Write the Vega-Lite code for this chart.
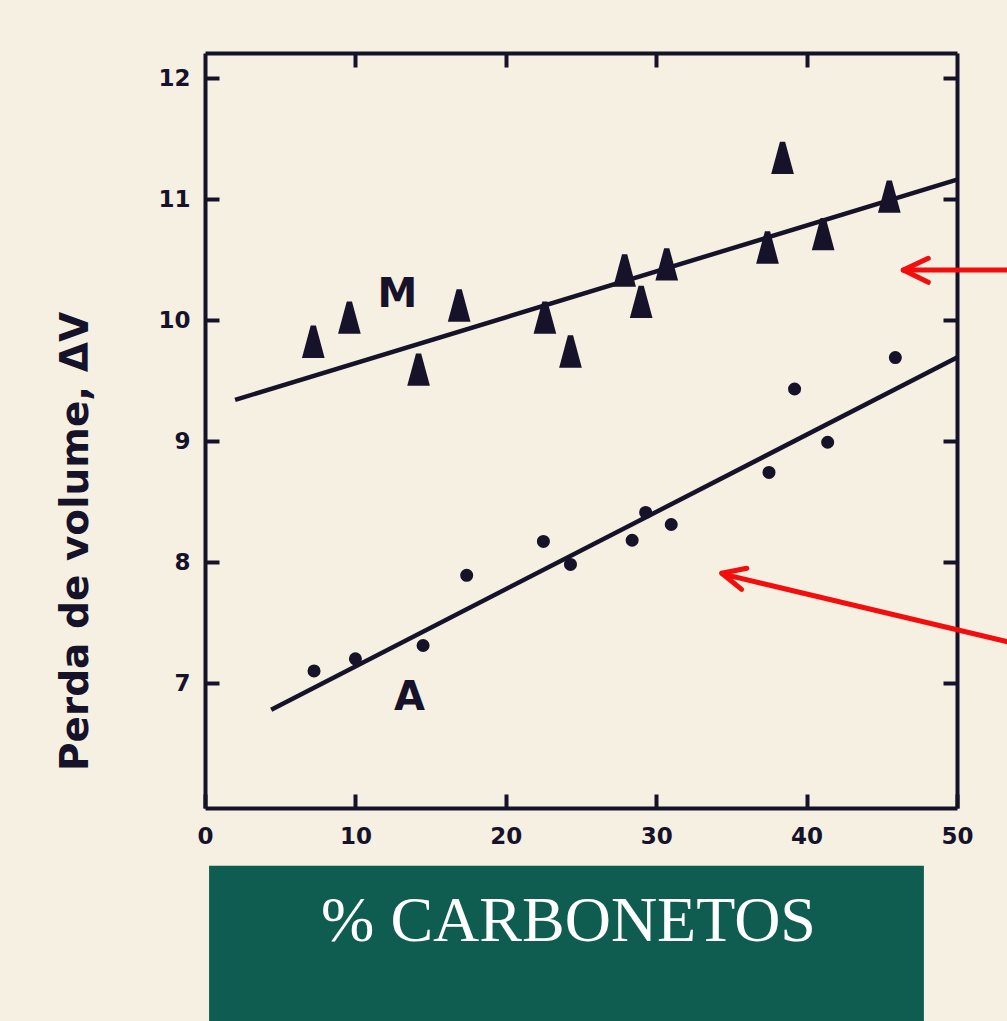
{
  "$schema": "https://vega.github.io/schema/vega-lite/v6.json",
  "autosize": {"type": "none"},
  "width": 752,
  "height": 755,
  "padding": {"left": 205, "top": 53, "right": 50, "bottom": 213},
  "background": "#f5f0e2",
  "config": {
    "view": {"stroke": null},
    "axis": {
      "grid": false,
      "domainColor": "#15122a",
      "domainWidth": 4,
      "tickColor": "#15122a",
      "tickWidth": 4,
      "tickSize": -14,
      "labelFlush": false,
      "labelFont": "DejaVu Sans",
      "labelFontWeight": "bold",
      "labelFontSize": 23,
      "labelColor": "#15122a"
    }
  },
  "datasets": {
    "points": [
      {"series": "M", "pct": 7.2, "dv": 9.82},
      {"series": "M", "pct": 9.6, "dv": 10.02},
      {"series": "M", "pct": 14.2, "dv": 9.59},
      {"series": "M", "pct": 16.9, "dv": 10.12},
      {"series": "M", "pct": 22.6, "dv": 10.02},
      {"series": "M", "pct": 24.3, "dv": 9.74},
      {"series": "M", "pct": 27.9, "dv": 10.41},
      {"series": "M", "pct": 29.0, "dv": 10.15},
      {"series": "M", "pct": 30.7, "dv": 10.46},
      {"series": "M", "pct": 37.4, "dv": 10.6},
      {"series": "M", "pct": 38.4, "dv": 11.34},
      {"series": "M", "pct": 41.1, "dv": 10.71},
      {"series": "M", "pct": 45.5, "dv": 11.02},
      {"series": "A", "pct": 7.25, "dv": 7.1},
      {"series": "A", "pct": 10.0, "dv": 7.2},
      {"series": "A", "pct": 14.5, "dv": 7.31},
      {"series": "A", "pct": 17.4, "dv": 7.89},
      {"series": "A", "pct": 22.5, "dv": 8.17},
      {"series": "A", "pct": 24.3, "dv": 7.98},
      {"series": "A", "pct": 28.4, "dv": 8.18},
      {"series": "A", "pct": 29.3, "dv": 8.41},
      {"series": "A", "pct": 31.0, "dv": 8.31},
      {"series": "A", "pct": 37.5, "dv": 8.74},
      {"series": "A", "pct": 39.2, "dv": 9.43},
      {"series": "A", "pct": 41.4, "dv": 8.99},
      {"series": "A", "pct": 45.9, "dv": 9.69}
    ],
    "fits": [
      {"series": "M", "pct": 2.0, "dv": 9.34},
      {"series": "M", "pct": 50, "dv": 11.16},
      {"series": "A", "pct": 4.4, "dv": 6.78},
      {"series": "A", "pct": 50, "dv": 9.69}
    ],
    "labels": [
      {"label": "M", "pct": 12.8, "dv": 10.21},
      {"label": "A", "pct": 13.6, "dv": 6.88}
    ],
    "arrows": [
      {"part": "shaft1", "x1": 53.4, "y1": 10.413, "x2": 46.5, "y2": 10.413},
      {"part": "head1a", "x1": 46.43, "y1": 10.413, "x2": 48.09, "y2": 10.51},
      {"part": "head1b", "x1": 46.43, "y1": 10.413, "x2": 48.09, "y2": 10.312},
      {"part": "shaft2", "x1": 53.4, "y1": 7.34, "x2": 34.45, "y2": 7.9},
      {"part": "head2a", "x1": 34.36, "y1": 7.907, "x2": 36.02, "y2": 7.948},
      {"part": "head2b", "x1": 34.36, "y1": 7.907, "x2": 35.68, "y2": 7.774}
    ],
    "box": [
      {"x1": 0.27, "x2": 47.8, "y1": 5.49, "y2": 4.0}
    ]
  },
  "layer": [
    {
      "data": {"name": "box"},
      "mark": {"type": "rect", "color": "#0f5d51", "clip": false},
      "encoding": {
        "x": {"field": "x1", "type": "quantitative", "axis": null},
        "x2": {"field": "x2"},
        "y": {"field": "y1", "type": "quantitative", "axis": null},
        "y2": {"field": "y2"}
      }
    },
    {
      "data": {"name": "fits"},
      "mark": {"type": "line", "color": "#15122a", "strokeWidth": 4.5},
      "encoding": {
        "x": {
          "field": "pct", "type": "quantitative",
          "scale": {"domain": [0, 50], "nice": false, "zero": false},
          "axis": {
            "orient": "bottom",
            "values": [0, 10, 20, 30, 40, 50],
            "labelPadding": 31,
            "zindex": 1,
            "title": "% CARBONETOS",
            "titleFont": "Liberation Serif",
            "titleFontSize": 64,
            "titleFontWeight": "normal",
            "titleColor": "#ffffff",
            "titleX": 363,
            "titleY": 132,
            "titleAlign": "center",
            "titleBaseline": "alphabetic"
          }
        },
        "y": {
          "field": "dv", "type": "quantitative",
          "scale": {"domain": [5.967, 12.207], "nice": false, "zero": false},
          "axis": {
            "orient": "left",
            "values": [7, 8, 9, 10, 11, 12],
            "labelPadding": 29,
            "title": "Perda de volume, ΔV",
            "titleFont": "DejaVu Sans",
            "titleFontWeight": "bold",
            "titleFontSize": 39,
            "titleColor": "#15122a",
            "titleAngle": -90,
            "titleX": -130,
            "titleY": 488,
            "titleAlign": "center",
            "titleBaseline": "middle"
          }
        },
        "detail": {"field": "series"}
      }
    },
    {
      "data": {"name": "points"},
      "mark": {"type": "point", "filled": true, "color": "#15122a", "opacity": 1},
      "encoding": {
        "x": {
          "field": "pct", "type": "quantitative",
          "axis": {"orient": "top", "values": [10, 20, 30, 40], "labels": false, "title": null}
        },
        "y": {
          "field": "dv", "type": "quantitative",
          "axis": {"orient": "right", "values": [7, 8, 9, 10, 11, 12], "labels": false, "title": null}
        },
        "shape": {
          "field": "series", "type": "nominal",
          "scale": {"domain": ["M", "A"], "range": ["M-0.7,1 L0.7,1 L0.16,-1 L-0.16,-1 Z", "circle"]},
          "legend": null
        },
        "size": {
          "field": "series", "type": "nominal",
          "scale": {"domain": ["M", "A"], "range": [1050, 170]},
          "legend": null
        }
      }
    },
    {
      "data": {"name": "labels"},
      "mark": {"type": "text", "font": "DejaVu Sans", "fontWeight": "bold", "fontSize": 40, "color": "#15122a", "align": "center", "baseline": "middle"},
      "encoding": {
        "x": {"field": "pct", "type": "quantitative", "axis": null},
        "y": {"field": "dv", "type": "quantitative", "axis": null},
        "text": {"field": "label"}
      }
    },
    {
      "data": {"name": "arrows"},
      "mark": {"type": "rule", "color": "#f40d0d", "strokeWidth": 5, "strokeCap": "round", "clip": false},
      "encoding": {
        "x": {"field": "x1", "type": "quantitative", "axis": null},
        "y": {"field": "y1", "type": "quantitative", "axis": null},
        "x2": {"field": "x2"},
        "y2": {"field": "y2"}
      }
    }
  ]
}
